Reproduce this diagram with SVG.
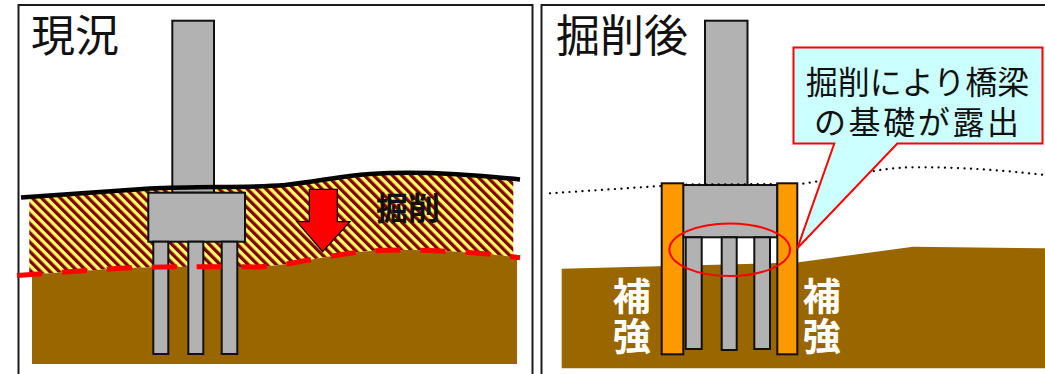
<svg xmlns="http://www.w3.org/2000/svg" width="1045" height="374" viewBox="0 0 1045 374">
  <style>
    .frame { fill: none; stroke: #1a1a1a; stroke-width: 2; }
    .soil { fill: #996600; }
    .concrete { fill: #b2b2b2; stroke: #111; stroke-width: 2; }
    .sheet { fill: #ff9900; stroke: #111; stroke-width: 2; }
    .title { font-family: "Noto Sans CJK JP", "Noto Sans", sans-serif; font-size: 44px; fill: #111; }
    .label { font-family: "Noto Sans CJK JP", "Noto Sans", sans-serif; font-weight: bold; }
    .note { font-family: "Noto Sans CJK JP", "Noto Sans", sans-serif; font-size: 32px; fill: #111; }
  </style>
  <defs>
    <pattern id="hatch" width="6.6" height="6.6" patternUnits="userSpaceOnUse" patternTransform="rotate(-45)">
      <rect width="6.6" height="6.6" fill="#ffff66"/>
      <rect width="3.3" height="6.6" fill="#800000"/>
    </pattern>
  </defs>

  <rect width="1045" height="374" fill="#fff"/>

  <!-- left panel: current state -->
  <g id="panel-current">
    <path class="frame" d="M18.5,376 V5 H532.5 V376"/>
    <text class="title" x="31" y="52">現況</text>
  </g>

  <g id="excavation-zone">
    <path fill="url(#hatch)" d="M29.3,197 L150,188.5 C200,186 250,188 285,185 C320,181 340,176 370,174 C400,172 450,172 513.3,178.5 L513.3,258 C500,255 470,252 430,250.5 C390,249.5 370,250 345,254 C310,259 285,266 255,267 Q165,266 120,268.3 L29.3,274.8 Z"/>
  </g>

  <g id="ground-current">
    <path class="soil" d="M32,274.6 L120,268.3 Q165,266 255,267 C285,266 310,259 345,254 C370,250 390,249.5 430,250.5 C470,252 500,255 517,257.5 L517,364 L32,364 Z"/>
  </g>

  <g id="pier-current">
    <rect class="concrete" x="172.3" y="20.7" width="41.7" height="172"/>
    <rect class="concrete" x="148.3" y="192.7" width="96.7" height="49"/>
    <rect class="concrete" x="153.3" y="241.7" width="15" height="112.3"/>
    <rect class="concrete" x="188.3" y="241.7" width="15" height="112.3"/>
    <rect class="concrete" x="221.7" y="241.7" width="15.6" height="112.3"/>
  </g>

  <g id="surface-lines">
    <path d="M21,197.5 L150,188.5 C200,186 250,188 285,185 C320,181 340,176 370,174 C400,172 450,172 520,179.5" fill="none" stroke="#000" stroke-width="4.5"/>
    <path d="M17,275.5 L120,268.3 Q165,266 255,267 C285,266 310,259 345,254 C370,250 390,249.5 430,250.5 C470,252 500,255 520,257.8" fill="none" stroke="#ff0000" stroke-width="5" stroke-dasharray="25 20"/>
  </g>

  <g id="excavation-arrow">
    <path d="M309.3,189.3 H337.3 V221.7 H350 L322.7,251.7 L296.7,221.7 H309.3 Z" fill="#ff0000" stroke="#000" stroke-width="1.2"/>
    <text class="label" x="376" y="219.5" font-size="32" fill="#111">掘削</text>
  </g>

  <!-- right panel: after excavation -->
  <g id="panel-after">
    <path class="frame" d="M541.5,376 V5 H1047"/>
    <text class="title" x="556" y="52">掘削後</text>
  </g>

  <g id="ground-after">
    <path class="soil" d="M561.7,268.8 L797,262.5 L913,246.7 L1045,248.3 L1045,368.3 L561.7,368.3 Z"/>
  </g>

  <g id="pier-after">
    <rect class="concrete" x="705" y="20.7" width="42.5" height="164.3"/>
    <rect class="concrete" x="683" y="185" width="94.3" height="52.3"/>
    <rect class="concrete" x="685.7" y="237.3" width="16" height="111.7"/>
    <rect class="concrete" x="721.7" y="237.3" width="15" height="112.7"/>
    <rect class="concrete" x="754.3" y="237.3" width="15.7" height="111.7"/>
  </g>

  <g id="former-surface">
    <path d="M550,193.3 L683,184.5 L800,184 C830,180 850,174 870,171.7 C890,168 905,167.3 913,167.3 C960,167 1000,170 1045,175" fill="none" stroke="#000" stroke-width="2.2" stroke-linecap="round" stroke-dasharray="0.1 6.4"/>
  </g>

  <g id="sheet-piles">
    <rect class="sheet" x="661.7" y="183.3" width="21.6" height="171"/>
    <rect class="sheet" x="777.3" y="183.3" width="20" height="171"/>
  </g>

  <g id="exposed-marker">
    <ellipse cx="729.7" cy="249.7" rx="60.3" ry="26.3" fill="none" stroke="#ff0000" stroke-width="2"/>
  </g>

  <g id="callout">
    <path d="M793.5,47.5 H1042.5 V143.5 H897.3 L797.3,248.3 L834.3,143.5 H793.5 Z" fill="#ccffff" stroke="#ff0000" stroke-width="2"/>
    <text class="note" x="917.5" y="94" text-anchor="middle">掘削により橋梁</text>
    <text class="note" x="814" y="134" textLength="205" lengthAdjust="spacing">の基礎が露出</text>
  </g>

  <g id="reinforcement-labels">
    <text class="label" x="631.7" y="309.5" font-size="38" fill="#fff" text-anchor="middle">補</text>
    <text class="label" x="631.7" y="349.5" font-size="38" fill="#fff" text-anchor="middle">強</text>
    <text class="label" x="821.7" y="309.5" font-size="38" fill="#fff" text-anchor="middle">補</text>
    <text class="label" x="821.7" y="349.5" font-size="38" fill="#fff" text-anchor="middle">強</text>
  </g>
</svg>
